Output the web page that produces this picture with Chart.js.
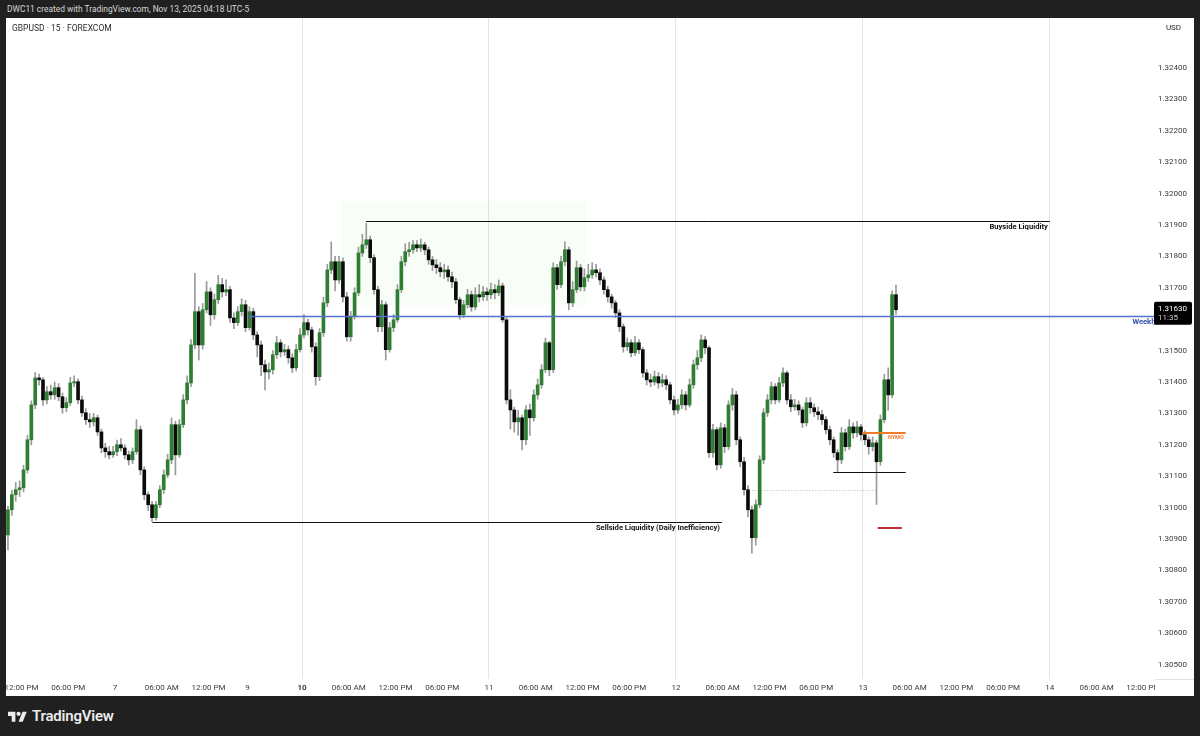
<!DOCTYPE html>
<html>
<head>
<meta charset="utf-8">
<title>GBPUSD · 15 · FOREXCOM</title>
<script src="https://cdn.jsdelivr.net/npm/chart.js@4.4.0/dist/chart.umd.min.js"></script>
<style>
  html, body { margin: 0; padding: 0; background: #202020; }
  body { width: 1200px; height: 736px; position: relative; overflow: hidden; font-family: Roboto, "Noto Sans", sans-serif; }
  #header { position: absolute; left: 7px; top: 3px; font-size: 8.4px; line-height: 12px; color: #d6d6d6; }
  #panel { position: absolute; left: 6px; top: 18px; width: 1188px; height: 678px; background: #fff; }
  #chart { position: absolute; left: 0; top: 0; }
  #symbol { position: absolute; left: 6px; top: 5px; font-size: 8.5px; line-height: 11px; color: #2a2a2a; }
  #usd { position: absolute; left: 1151px; top: 3px; width: 33px; height: 14px; line-height: 14px; text-align: center; font-size: 8px; color: #2a2a2a; }
  #footer { position: absolute; left: 8px; top: 707px; height: 18px; display: flex; align-items: center; }
  #footer span { margin-left: 5px; font-size: 15px; font-weight: 600; color: #ececec; letter-spacing: -0.2px; }
</style>
</head>
<body>
<div id="header">DWC11 created with TradingView.com, Nov 13, 2025 04:18 UTC-5</div>
<div id="panel">
  <canvas id="chart" width="1188" height="678"></canvas>
  <div id="symbol">GBPUSD · 15 · FOREXCOM</div>
  <div id="usd">USD</div>
</div>
<div id="footer">
  <svg width="19" height="13" viewBox="0 0 36 24"><path d="M14 22H7V11H0V3h14z" fill="#ececec"/><circle cx="20" cy="7" r="4" fill="#ececec"/><path d="M28 22h-8l7.5-19h8z" fill="#ececec"/></svg>
  <span>TradingView</span>
</div>
<script>
// 30 min bars (ET). Thu Nov 6 10:00 -> Fri Nov 7 17:00, then Sun Nov 9 17:00 -> Thu Nov 13 04:00
// x axis = trading hours from Mon Nov 10 00:00, weekend removed
const firstBarHour = -38;
const reopenHour = -7;
const barsBeforeWeekend = 62;
const firstOpen = 1.30913;

const closes = [
  // Thu / Fri
  1.30993, 1.31041, 1.31057, 1.31063, 1.31120, 1.31216, 1.31327, 1.31413, 1.31407, 1.31343,
  1.31369, 1.31359, 1.31382, 1.31353, 1.31318, 1.31334, 1.31397, 1.31401, 1.31343, 1.31302,
  1.31280, 1.31273, 1.31286, 1.31241, 1.31190, 1.31178, 1.31168, 1.31178, 1.31200, 1.31190,
  1.31168, 1.31152, 1.31178, 1.31248, 1.31120, 1.31041, 1.31009, 1.30968, 1.31009, 1.31057,
  1.31104, 1.31152, 1.31264, 1.31168, 1.31264, 1.31343, 1.31397, 1.31518, 1.31624, 1.31518,
  1.31630, 1.31687, 1.31614, 1.31662, 1.31710, 1.31687, 1.31694, 1.31604, 1.31589, 1.31624,
  1.31646, 1.31573,
  // Sun -> Thu
  1.31624, 1.31550, 1.31518, 1.31455, 1.31432, 1.31439, 1.31487, 1.31525, 1.31496, 1.31503,
  1.31477, 1.31445, 1.31503, 1.31550, 1.31589, 1.31566, 1.31512, 1.31417, 1.31557, 1.31652,
  1.31757, 1.31783, 1.31725, 1.31783, 1.31671, 1.31544, 1.31608, 1.31684, 1.31811, 1.31837,
  1.31853, 1.31796, 1.31694, 1.31576, 1.31646, 1.31503, 1.31573, 1.31598, 1.31694, 1.31783,
  1.31815, 1.31821, 1.31837, 1.31827, 1.31837, 1.31821, 1.31789, 1.31773, 1.31764, 1.31751,
  1.31757, 1.31735, 1.31719, 1.31662, 1.31614, 1.31646, 1.31678, 1.31639, 1.31678, 1.31671,
  1.31687, 1.31678, 1.31694, 1.31684, 1.31706, 1.31598, 1.31343, 1.31311, 1.31273, 1.31286,
  1.31216, 1.31311, 1.31286, 1.31359, 1.31391, 1.31439, 1.31525, 1.31439, 1.31764, 1.31710,
  1.31783, 1.31821, 1.31652, 1.31694, 1.31764, 1.31703, 1.31732, 1.31741, 1.31757, 1.31748,
  1.31725, 1.31694, 1.31671, 1.31652, 1.31620, 1.31576, 1.31512, 1.31525, 1.31493, 1.31525,
  1.31503, 1.31429, 1.31407, 1.31400, 1.31417, 1.31397, 1.31407, 1.31391, 1.31343, 1.31311,
  1.31327, 1.31359, 1.31327, 1.31391, 1.31455, 1.31477, 1.31534, 1.31509, 1.31175, 1.31248,
  1.31136, 1.31254, 1.31194, 1.31327, 1.31359, 1.31216, 1.31146, 1.31057, 1.30993, 1.30904,
  1.31009, 1.31152, 1.31302, 1.31343, 1.31385, 1.31343, 1.31397, 1.31429, 1.31343, 1.31321,
  1.31327, 1.31311, 1.31270, 1.31334, 1.31318, 1.31305, 1.31296, 1.31280, 1.31248, 1.31216,
  1.31175, 1.31152, 1.31238, 1.31194, 1.31257, 1.31238, 1.31257, 1.31232, 1.31216, 1.31194,
  1.31206, 1.31146, 1.31280, 1.31407, 1.31359, 1.31678, 1.31630
];

const highs = [
  1.31005, 1.31055, 1.31080, 1.31085, 1.31135, 1.31230, 1.31340, 1.31430, 1.31425, 1.31415,
  1.31385, 1.31390, 1.31400, 1.31395, 1.31365, 1.31350, 1.31415, 1.31420, 1.31410, 1.31355,
  1.31315, 1.31300, 1.31300, 1.31295, 1.31250, 1.31205, 1.31195, 1.31195, 1.31215, 1.31220,
  1.31200, 1.31180, 1.31190, 1.31280, 1.31260, 1.31130, 1.31050, 1.31020, 1.31020, 1.31070,
  1.31120, 1.31170, 1.31285, 1.31275, 1.31280, 1.31360, 1.31420, 1.31535, 1.31746, 1.31640,
  1.31650, 1.31720, 1.31700, 1.31680, 1.31740, 1.31730, 1.31725, 1.31705, 1.31620, 1.31640,
  1.31665, 1.31660,
  1.31640, 1.31635, 1.31560, 1.31530, 1.31470, 1.31460, 1.31500, 1.31545, 1.31535, 1.31520,
  1.31515, 1.31490, 1.31520, 1.31570, 1.31615, 1.31600, 1.31575, 1.31525, 1.31570, 1.31670,
  1.31775, 1.31846, 1.31800, 1.31800, 1.31795, 1.31685, 1.31625, 1.31700, 1.31830, 1.31870,
  1.31905, 1.31865, 1.31805, 1.31705, 1.31660, 1.31655, 1.31590, 1.31615, 1.31710, 1.31800,
  1.31840, 1.31845, 1.31850, 1.31850, 1.31855, 1.31845, 1.31830, 1.31800, 1.31790, 1.31780,
  1.31775, 1.31770, 1.31750, 1.31730, 1.31670, 1.31660, 1.31695, 1.31690, 1.31700, 1.31710,
  1.31705, 1.31700, 1.31715, 1.31710, 1.31725, 1.31715, 1.31605, 1.31375, 1.31320, 1.31310,
  1.31295, 1.31325, 1.31330, 1.31375, 1.31410, 1.31455, 1.31540, 1.31530, 1.31780, 1.31775,
  1.31800, 1.31846, 1.31830, 1.31720, 1.31785, 1.31775, 1.31760, 1.31775, 1.31780, 1.31775,
  1.31760, 1.31735, 1.31705, 1.31680, 1.31660, 1.31630, 1.31585, 1.31540, 1.31535, 1.31545,
  1.31535, 1.31510, 1.31440, 1.31425, 1.31435, 1.31430, 1.31425, 1.31420, 1.31400, 1.31355,
  1.31345, 1.31375, 1.31370, 1.31410, 1.31470, 1.31500, 1.31550, 1.31545, 1.31515, 1.31265,
  1.31255, 1.31270, 1.31265, 1.31340, 1.31380, 1.31370, 1.31225, 1.31160, 1.31070, 1.31005,
  1.31025, 1.31165, 1.31315, 1.31360, 1.31400, 1.31395, 1.31415, 1.31445, 1.31435, 1.31360,
  1.31345, 1.31340, 1.31320, 1.31350, 1.31350, 1.31330, 1.31320, 1.31310, 1.31290, 1.31260,
  1.31225, 1.31185, 1.31255, 1.31250, 1.31280, 1.31270, 1.31275, 1.31265, 1.31245, 1.31225,
  1.31225, 1.31215, 1.31295, 1.31425, 1.31445, 1.31690, 1.31709
];

const lows = [
  1.30865, 1.30975, 1.31020, 1.31035, 1.31050, 1.31110, 1.31200, 1.31315, 1.31390, 1.31325,
  1.31330, 1.31345, 1.31345, 1.31340, 1.31300, 1.31305, 1.31325, 1.31385, 1.31330, 1.31290,
  1.31265, 1.31255, 1.31260, 1.31230, 1.31175, 1.31160, 1.31155, 1.31160, 1.31165, 1.31180,
  1.31155, 1.31135, 1.31140, 1.31170, 1.31105, 1.31025, 1.30990, 1.30955, 1.30960, 1.31000,
  1.31045, 1.31095, 1.31140, 1.31104, 1.31160, 1.31255, 1.31330, 1.31385, 1.31505, 1.31470,
  1.31505, 1.31620, 1.31580, 1.31600, 1.31650, 1.31670, 1.31675, 1.31590, 1.31570, 1.31580,
  1.31610, 1.31560,
  1.31565, 1.31535, 1.31480, 1.31420, 1.31375, 1.31410, 1.31425, 1.31475, 1.31480, 1.31485,
  1.31460, 1.31430, 1.31435, 1.31495, 1.31540, 1.31550, 1.31495, 1.31390, 1.31405, 1.31545,
  1.31640, 1.31745, 1.31690, 1.31715, 1.31655, 1.31530, 1.31530, 1.31600, 1.31675, 1.31800,
  1.31825, 1.31780, 1.31680, 1.31560, 1.31560, 1.31470, 1.31495, 1.31560, 1.31590, 1.31685,
  1.31770, 1.31800, 1.31810, 1.31815, 1.31815, 1.31805, 1.31775, 1.31755, 1.31745, 1.31735,
  1.31730, 1.31720, 1.31700, 1.31650, 1.31600, 1.31605, 1.31635, 1.31625, 1.31630, 1.31655,
  1.31660, 1.31660, 1.31665, 1.31665, 1.31675, 1.31590, 1.31330, 1.31250, 1.31240, 1.31230,
  1.31184, 1.31200, 1.31230, 1.31275, 1.31345, 1.31380, 1.31430, 1.31420, 1.31430, 1.31695,
  1.31700, 1.31770, 1.31630, 1.31640, 1.31685, 1.31690, 1.31690, 1.31720, 1.31730, 1.31735,
  1.31710, 1.31680, 1.31655, 1.31635, 1.31605, 1.31560, 1.31495, 1.31500, 1.31480, 1.31485,
  1.31490, 1.31415, 1.31390, 1.31385, 1.31390, 1.31380, 1.31385, 1.31375, 1.31330, 1.31295,
  1.31300, 1.31315, 1.31310, 1.31320, 1.31380, 1.31440, 1.31465, 1.31490, 1.31160, 1.31160,
  1.31120, 1.31125, 1.31175, 1.31185, 1.31310, 1.31200, 1.31130, 1.31040, 1.30970, 1.30855,
  1.30880, 1.31000, 1.31140, 1.31290, 1.31330, 1.31330, 1.31335, 1.31385, 1.31330, 1.31305,
  1.31310, 1.31295, 1.31255, 1.31260, 1.31300, 1.31290, 1.31280, 1.31265, 1.31235, 1.31200,
  1.31160, 1.31112, 1.31140, 1.31180, 1.31185, 1.31220, 1.31225, 1.31215, 1.31200, 1.31170,
  1.31180, 1.31010, 1.31135, 1.31270, 1.31310, 1.31350, 1.31615
];

// axis ticks
const xTickHours = [-36, -30, -24, -18, -12, -7, 0, 6, 12, 18, 24, 30, 36, 42, 48, 54, 60, 66, 72, 78, 84, 90, 96, 102, 108];
const xTickLabels = ['12:00 PM', '06:00 PM', '7', '06:00 AM', '12:00 PM', '9', '10', '06:00 AM', '12:00 PM', '06:00 PM',
  '11', '06:00 AM', '12:00 PM', '06:00 PM', '12', '06:00 AM', '12:00 PM', '06:00 PM', '13', '06:00 AM', '12:00 PM',
  '06:00 PM', '14', '06:00 AM', '12:00 PM'];
const dayLineHours = [0, 24, 48, 72, 96];
const yTicks = [1.305, 1.306, 1.307, 1.308, 1.309, 1.310, 1.311, 1.312, 1.313, 1.314, 1.315, 1.316,
  1.317, 1.318, 1.319, 1.320, 1.321, 1.322, 1.323, 1.324];

// drawn levels (price, from hour, to hour)
const weeklyLevel = [1.31610, -6.75, 109.5];
const buysideLevel = [1.31913, 8.2, 96];
const sellsideLevel = [1.30954, -19.2, 53.9];
const nymoLevel = [1.31238, 71.9, 77.5];
const lowLevel = [1.31114, 68.2, 77.5];
const dottedLevel = [1.31057, 57.8, 73.9];
const redLevel = [1.30936, 73.9, 77.0];
const zone = { top: 1.31976, bottom: 1.31645, from: 5.0, to: 36.5 };
const lastPrice = '1.31630';
const countdown = '11:35';

const barHour = k => k < barsBeforeWeekend
  ? firstBarHour + k * 0.5 + 0.25
  : reopenHour + (k - barsBeforeWeekend) * 0.5 + 0.25;
const opens = [firstOpen, ...closes.slice(0, -1)];

const wickData = closes.map((c, k) => ({ x: barHour(k), y: [lows[k], highs[k]] }));
const bodyData = closes.map((c, k) => ({ x: barHour(k), y: [opens[k], c] }));
const bodyColors = closes.map((c, k) => c >= opens[k] ? '#2e7d32' : '#0b0b0b');

function hLine(chart, level, color, width, dash) {
  const { ctx, scales: { x, y } } = chart;
  const py = Math.round(y.getPixelForValue(level[0])) + (width % 2 ? 0.5 : 0);
  ctx.save();
  ctx.strokeStyle = color;
  ctx.lineWidth = width;
  if (dash) ctx.setLineDash(dash);
  ctx.beginPath();
  ctx.moveTo(x.getPixelForValue(level[1]), py);
  ctx.lineTo(x.getPixelForValue(level[2]), py);
  ctx.stroke();
  ctx.restore();
  return py;
}

function label(chart, text, px, py, color, font) {
  const ctx = chart.ctx;
  ctx.save();
  ctx.fillStyle = color;
  ctx.font = font;
  ctx.textAlign = 'right';
  ctx.textBaseline = 'middle';
  ctx.fillText(text, px, py);
  ctx.restore();
}

const levelsPlugin = {
  id: 'levels',
  beforeDatasetsDraw(chart) {
    const { ctx, scales: { x, y } } = chart;
    const x0 = x.getPixelForValue(zone.from), x1 = x.getPixelForValue(zone.to);
    const y0 = y.getPixelForValue(zone.top), y1 = y.getPixelForValue(zone.bottom);
    ctx.save();
    ctx.fillStyle = 'rgba(90, 220, 70, 0.045)';
    ctx.fillRect(x0, y0, x1 - x0, y1 - y0);
    ctx.restore();
    hLine(chart, dottedLevel, '#b5b5b5', 1, [1, 2]);
  },
  afterDatasetsDraw(chart) {
    const { x } = chart.scales;
    const a = chart.chartArea;
    const bold = 'bold 7.6px Roboto, "Liberation Sans", sans-serif';

    let py = hLine(chart, weeklyLevel, '#4f73cf', 1.5);
    label(chart, 'Weekly', a.right + 2, py + 6, '#2f4fb0', bold);

    py = hLine(chart, buysideLevel, '#111', 1);
    label(chart, 'Buyside Liquidity', x.getPixelForValue(buysideLevel[2]) - 2, py + 6, '#111', bold);

    py = hLine(chart, sellsideLevel, '#111', 1);
    label(chart, 'Sellside Liquidity (Daily Inefficiency)', x.getPixelForValue(sellsideLevel[2]) - 2, py + 6, '#111', bold);

    hLine(chart, lowLevel, '#111', 1);
    py = hLine(chart, nymoLevel, '#ef7a2a', 2);
    label(chart, 'NYMO', x.getPixelForValue(nymoLevel[2]) - 2, py + 5, '#ef7a2a', 'bold 5.5px Roboto, sans-serif');
    hLine(chart, redLevel, '#c0303a', 2);
  },
  afterDraw(chart) {
    const { ctx, scales: { y } } = chart;
    const a = chart.chartArea;
    // hide the part of the last time label that runs under the price scale
    ctx.save();
    ctx.fillStyle = '#fff';
    ctx.fillRect(a.right, a.bottom + 1, chart.width - a.right, chart.height - a.bottom);
    ctx.strokeStyle = '#e3e3e3';
    ctx.lineWidth = 1;
    ctx.beginPath();
    ctx.moveTo(a.right, a.bottom + 0.5);
    ctx.lineTo(chart.width, a.bottom + 0.5);
    ctx.stroke();

    // last price tag
    const py = y.getPixelForValue(parseFloat(lastPrice));
    const tx = a.right - 1;
    ctx.fillStyle = '#000';
    ctx.beginPath();
    ctx.roundRect(tx, py - 8, 38, 23, 2);
    ctx.fill();
    ctx.textAlign = 'left';
    ctx.textBaseline = 'middle';
    ctx.fillStyle = '#fff';
    ctx.font = '8px Roboto, sans-serif';
    ctx.fillText(lastPrice, tx + 4, py - 1);
    ctx.fillStyle = '#cfcfcf';
    ctx.fillText(countdown, tx + 4, py + 8.5);
    ctx.restore();
  }
};

new Chart(document.getElementById('chart'), {
  type: 'bar',
  data: {
    datasets: [
      { label: 'wicks', data: wickData, backgroundColor: '#9a9a9a', barThickness: 1, grouped: false, order: 2 },
      { label: 'bodies', data: bodyData, backgroundColor: bodyColors, barThickness: 3, minBarLength: 1, grouped: false, order: 1 }
    ]
  },
  options: {
    responsive: false,
    animation: false,
    layout: { padding: 0 },
    plugins: { legend: { display: false }, tooltip: { enabled: false } },
    scales: {
      x: {
        type: 'linear',
        offset: false,
        min: -38,
        max: 109.5,
        border: { display: false },
        grid: {
          offset: false,
          drawTicks: false,
          lineWidth: 1,
          color: c => c.tick && dayLineHours.includes(c.tick.value) ? '#e4e4e4' : 'rgba(0,0,0,0)'
        },
        ticks: {
          autoSkip: false,
          maxRotation: 0,
          padding: 4,
          color: '#3a3a3a',
          font: c => ({ family: 'Roboto, "Noto Sans", sans-serif', size: 8, weight: c.tick && c.tick.value === 0 ? 'bold' : 'normal' }),
          callback: (v, i) => xTickLabels[i]
        },
        afterBuildTicks: s => { s.ticks = xTickHours.map(v => ({ value: v })); },
        afterFit: s => { s.height = 17; s.paddingLeft = 0; s.paddingRight = 0; }
      },
      y: {
        type: 'linear',
        position: 'right',
        min: 1.304541,
        max: 1.325592,
        border: { display: false },
        grid: { display: false, drawTicks: false },
        ticks: {
          padding: 3,
          color: '#3a3a3a',
          font: { family: 'Roboto, "Noto Sans", sans-serif', size: 8 },
          callback: v => v.toFixed(5)
        },
        afterBuildTicks: s => { s.ticks = yTicks.map(v => ({ value: v })); },
        afterFit: s => { s.width = 39; s.paddingTop = 0; s.paddingBottom = 0; }
      }
    }
  },
  plugins: [levelsPlugin]
});
</script>
</body>
</html>
